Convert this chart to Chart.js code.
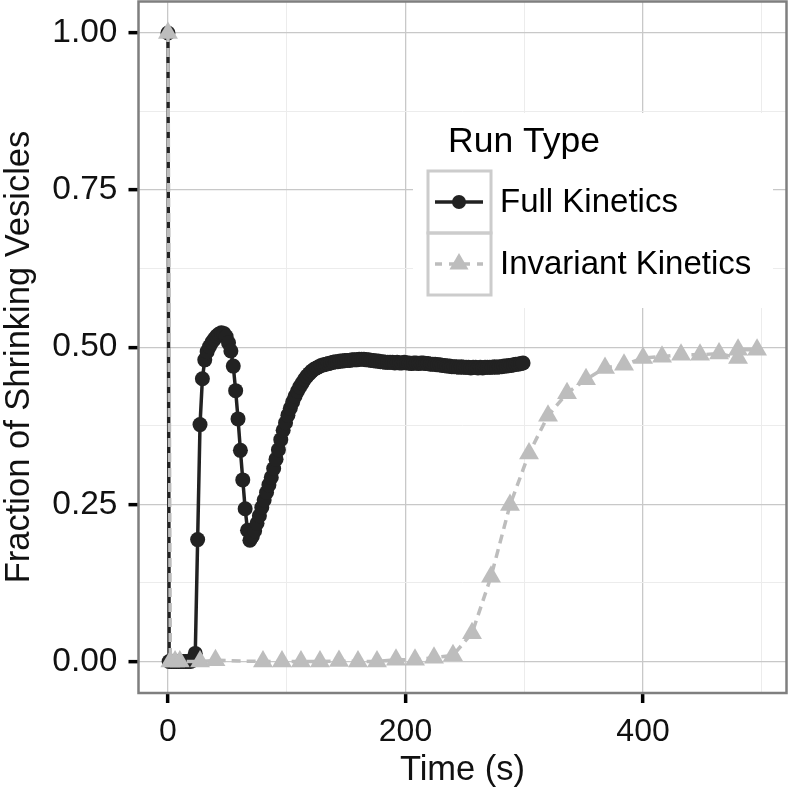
<!DOCTYPE html>
<html lang="en">
<head>
<meta charset="UTF-8">
<title>Fraction of Shrinking Vesicles</title>
<script src="https://cdn.jsdelivr.net/npm/chart.js"></script>
<style>
    body { margin: 0; background: #fff; }
    #wrap { width: 792px; height: 792px; }
</style>
</head>
<body>
<div id="wrap"><canvas id="chart" width="792" height="792"></canvas></div>
<script>
    // Full Kinetics run (time in s, fraction of shrinking vesicles)
    const fullTime = [
        0, 1, 3, 5, 7, 9, 11, 13, 15, 17,
        19, 21, 23, 25, 27, 29, 31, 33, 35, 37,
        39, 41, 43, 45, 47, 49, 51, 53, 55, 57,
        59, 61, 63, 65, 67, 69, 71, 73, 75, 77,
        79, 81, 83, 85, 87, 89, 91, 93, 95, 97,
        99, 101, 103, 105, 107, 109, 111, 113, 115, 117,
        119, 121, 123, 125, 127, 129, 131, 133, 135, 137,
        139, 141, 143, 145, 147, 149, 151, 153, 155, 157,
        159, 161, 163, 165, 167, 169, 171, 173, 175, 177,
        179, 181, 183, 185, 187, 189, 191, 193, 195, 197,
        199, 201, 203, 205, 207, 209, 211, 213, 215, 217,
        219, 221, 223, 225, 227, 229, 231, 233, 235, 237,
        239, 241, 243, 245, 247, 249, 251, 253, 255, 257,
        259, 261, 263, 265, 267, 269, 271, 273, 275, 277,
        279, 281, 283, 285, 287, 289, 291, 293, 295, 297,
        299
    ];
    const fullFrac = [
        1.000, 0, 0, 0, 0, 0, 0, 0, 0, 0,
        0, 0.002, 0.013, 0.194, 0.377, 0.450, 0.480, 0.493, 0.501, 0.508,
        0.513, 0.518, 0.521, 0.523, 0.522, 0.517, 0.507, 0.494, 0.470, 0.431,
        0.386, 0.336, 0.289, 0.243, 0.209, 0.193, 0.199, 0.208, 0.220, 0.232,
        0.245, 0.257, 0.269, 0.281, 0.293, 0.307, 0.322, 0.337, 0.353, 0.368,
        0.380, 0.392, 0.403, 0.413, 0.422, 0.430, 0.437, 0.443, 0.449, 0.454,
        0.458, 0.462, 0.465, 0.467, 0.469, 0.471, 0.472, 0.473, 0.474, 0.475,
        0.476, 0.477, 0.477, 0.478, 0.478, 0.479, 0.479, 0.479, 0.480, 0.480,
        0.480, 0.481, 0.481, 0.481, 0.480, 0.480, 0.479, 0.479, 0.478, 0.478,
        0.477, 0.477, 0.476, 0.476, 0.476, 0.476, 0.475, 0.476, 0.475, 0.475,
        0.476, 0.475, 0.475, 0.474, 0.475, 0.475, 0.474, 0.475, 0.475, 0.474,
        0.474, 0.473, 0.473, 0.473, 0.472, 0.472, 0.471, 0.471, 0.470, 0.470,
        0.469, 0.469, 0.469, 0.468, 0.469, 0.468, 0.468, 0.468, 0.467, 0.468,
        0.468, 0.467, 0.468, 0.467, 0.468, 0.468, 0.468, 0.468, 0.469, 0.468,
        0.469, 0.469, 0.470, 0.470, 0.471, 0.471, 0.472, 0.473, 0.473, 0.474,
        0.475
    ];

    // Invariant Kinetics run
    const invTime = [0, 2, 6, 10, 27, 40, 80, 96, 112, 128, 144, 160, 176, 192, 208, 224, 240,
        256, 272, 288, 304, 320, 336, 352, 368, 384, 400, 416, 432, 448, 464, 480, 480, 496];
    const invFrac = [1.000, 0, 0, 0, 0, 0.002, 0, 0, 0, 0, 0.001, 0, 0, 0.003, 0.003, 0.006, 0.010,
        0.045, 0.135, 0.249, 0.331, 0.391, 0.427, 0.449, 0.467, 0.472, 0.483, 0.485, 0.488, 0.488, 0.490, 0.483, 0.496, 0.496];

    const seriesNames = ['Full Kinetics', 'Invariant Kinetics'];
    const legendTitle = 'Run Type';
    const xTitle = 'Time (s)';
    const yTitle = 'Fraction of Shrinking Vesicles';
    const xTicks = [0, 100, 200, 300, 400, 500];
    const xMajor = [0, 200, 400];
    const yTicks = [0, 0.125, 0.25, 0.375, 0.5, 0.625, 0.75, 0.875, 1];
    const yMajor = [0, 0.25, 0.5, 0.75, 1];

    const FONT = "'Liberation Sans', Arial, Helvetica, sans-serif";
    const BLACK = '#222222';
    const GREY = '#bdbdbd';
    const MAJOR_GRID = '#c8c8c8';
    const MINOR_GRID = '#ececec';

    const fullPoints = fullTime.map((t, i) => ({ x: t, y: fullFrac[i] }));
    const invPoints = invTime.map((t, i) => ({ x: t, y: invFrac[i] }));

    const noPad = s => { s.paddingTop = 0; s.paddingBottom = 0; s.paddingLeft = 0; s.paddingRight = 0; };

    // panel border, y title and ggplot-like legend box
    const decorations = {
        id: 'decorations',
        afterDatasetsDraw(chart) {
            const { ctx, chartArea: a } = chart;
            ctx.save();
            ctx.strokeStyle = '#7f7f7f';
            ctx.lineWidth = 2.5;
            ctx.strokeRect(a.left, a.top, a.right - a.left, a.bottom - a.top);
            ctx.restore();
        },
        afterDraw(chart) {
            const { ctx } = chart;
            ctx.save();

            // y axis title
            ctx.save();
            ctx.translate(19, 357);
            ctx.rotate(-Math.PI / 2);
            ctx.fillStyle = '#111';
            ctx.font = '34.5px ' + FONT;
            ctx.textAlign = 'center';
            ctx.textBaseline = 'middle';
            ctx.fillText(yTitle, 0, 0);
            ctx.restore();

            ctx.fillStyle = '#ffffff';
            ctx.fillRect(413, 113, 360, 195);

            ctx.fillStyle = '#000';
            ctx.textBaseline = 'alphabetic';
            ctx.font = '35.5px ' + FONT;
            ctx.fillText(legendTitle, 448, 152);

            // key boxes
            ctx.strokeStyle = '#cccccc';
            ctx.lineWidth = 3;
            ctx.strokeRect(428, 171, 63, 62);
            ctx.strokeRect(428, 233, 63, 62);

            // Full Kinetics key
            ctx.strokeStyle = BLACK;
            ctx.lineWidth = 3.5;
            ctx.beginPath();
            ctx.moveTo(435, 202);
            ctx.lineTo(483, 202);
            ctx.stroke();
            ctx.fillStyle = BLACK;
            ctx.beginPath();
            ctx.arc(459, 202, 7, 0, Math.PI * 2);
            ctx.fill();

            // Invariant Kinetics key
            ctx.strokeStyle = GREY;
            ctx.setLineDash([7, 7]);
            ctx.beginPath();
            ctx.moveTo(435, 264);
            ctx.lineTo(483, 264);
            ctx.stroke();
            ctx.setLineDash([]);
            ctx.fillStyle = GREY;
            const r = 11;
            ctx.beginPath();
            ctx.moveTo(459, 264 - r);
            ctx.lineTo(459 + r * Math.sin(2 * Math.PI / 3), 264 + r / 2);
            ctx.lineTo(459 - r * Math.sin(2 * Math.PI / 3), 264 + r / 2);
            ctx.closePath();
            ctx.fill();

            ctx.fillStyle = '#000';
            ctx.font = '33px ' + FONT;
            ctx.fillText(seriesNames[0], 500, 212);
            ctx.fillText(seriesNames[1], 500, 274);
            ctx.restore();
        }
    };

    new Chart(document.getElementById('chart'), {
        type: 'line',
        data: {
            datasets: [{
                label: seriesNames[0],
                data: fullPoints,
                borderColor: BLACK,
                backgroundColor: BLACK,
                borderWidth: 3.5,
                pointRadius: 7.5,
                pointBorderWidth: 0,
                pointBackgroundColor: BLACK,
                tension: 0,
                order: 2
            }, {
                label: seriesNames[1],
                data: invPoints,
                borderColor: GREY,
                backgroundColor: GREY,
                borderWidth: 3.5,
                borderDash: [9, 6],
                pointStyle: 'triangle',
                pointRadius: 11.5,
                pointBorderWidth: 0,
                pointBackgroundColor: GREY,
                tension: 0,
                order: 1
            }]
        },
        options: {
            responsive: false,
            animation: false,
            devicePixelRatio: 1,
            layout: { autoPadding: false, padding: { left: 0, right: 5.5, top: 1.5, bottom: 0 } },
            plugins: { legend: { display: false }, tooltip: { enabled: false } },
            scales: {
                x: {
                    type: 'linear',
                    min: -24.8,
                    max: 520.8,
                    afterBuildTicks: s => { s.ticks = xTicks.map(v => ({ value: v })); },
                    afterFit: s => { s.height = 99; noPad(s); },
                    border: { display: false },
                    grid: {
                        color: c => xMajor.includes(c.tick.value) ? MAJOR_GRID : MINOR_GRID,
                        lineWidth: c => xMajor.includes(c.tick.value) ? 1.3 : 1,
                        tickColor: c => xMajor.includes(c.tick.value) ? '#000' : 'rgba(0,0,0,0)',
                        tickLength: 10,
                        tickWidth: 3.5
                    },
                    ticks: {
                        autoSkip: false,
                        maxRotation: 0,
                        padding: 10,
                        color: '#111',
                        font: { family: FONT, size: 32 },
                        callback: v => xMajor.includes(v) ? String(v) : ''
                    },
                    title: {
                        display: true,
                        text: xTitle,
                        color: '#111',
                        font: { family: FONT, size: 34.5 },
                        padding: { top: 0, bottom: 1 }
                    }
                },
                y: {
                    type: 'linear',
                    min: -0.05,
                    max: 1.05,
                    afterBuildTicks: s => { s.ticks = yTicks.map(v => ({ value: v })); },
                    afterFit: s => { s.width = 138.5; noPad(s); },
                    border: { display: false },
                    grid: {
                        color: c => yMajor.includes(c.tick.value) ? MAJOR_GRID : MINOR_GRID,
                        lineWidth: c => yMajor.includes(c.tick.value) ? 1.3 : 1,
                        tickColor: c => yMajor.includes(c.tick.value) ? '#000' : 'rgba(0,0,0,0)',
                        tickLength: 10,
                        tickWidth: 3.5
                    },
                    ticks: {
                        autoSkip: false,
                        padding: 11,
                        color: '#111',
                        font: { family: FONT, size: 33.5 },
                        callback: v => yMajor.includes(v) ? v.toFixed(2) : ''
                    }
                }
            }
        },
        plugins: [decorations]
    });
</script>
</body>
</html>
